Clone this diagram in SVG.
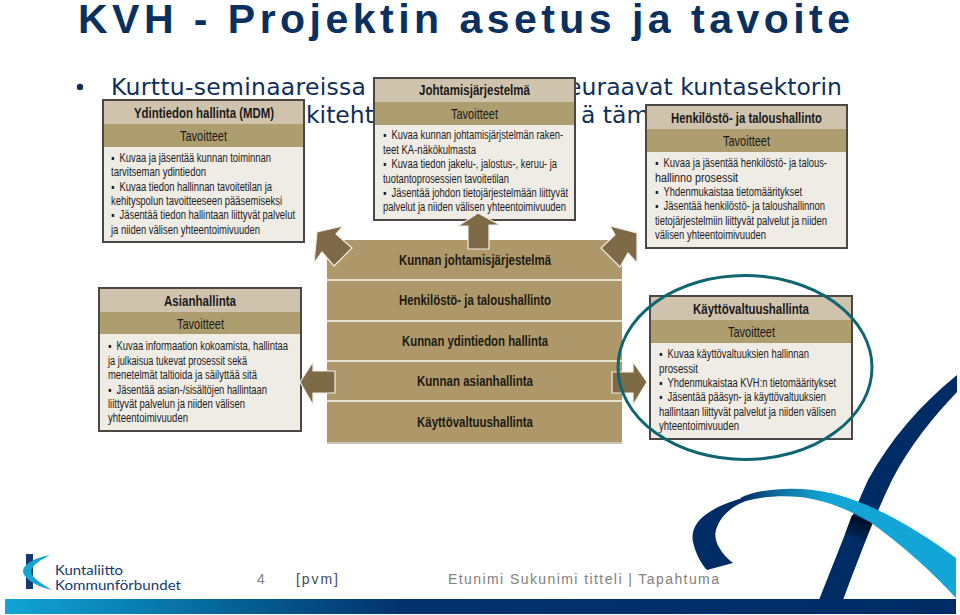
<svg xmlns="http://www.w3.org/2000/svg" width="960" height="615" viewBox="0 0 960 615">
<defs>
<style>
.b{fill:#efebe5;stroke:#4a4844;stroke-width:2}
.h1{fill:#d0c3ae}.h2{fill:#ae9d6e}
.t{font-family:"Liberation Sans",Arial,sans-serif;fill:#1a1a1a}
.ti{font-size:14.5px;font-weight:700}
.ta{font-size:15px}
.li{font-size:12px}
.v{font-family:"DejaVu Sans",Verdana,sans-serif}
.r{font-size:15px;font-weight:700;font-family:"Liberation Sans",Arial,sans-serif;fill:#1c1a12}
.a{fill:#7f6a48;stroke:#f2eee6;stroke-width:1.2}
</style>
<linearGradient id="bar" x1="0" x2="1" y1="0" y2="0"><stop offset="0" stop-color="#10a5d5"/><stop offset=".25" stop-color="#045f93"/><stop offset=".42" stop-color="#03316b"/><stop offset="1" stop-color="#002c66"/></linearGradient>
<linearGradient id="rib" gradientUnits="userSpaceOnUse" x1="742" y1="0" x2="825" y2="0"><stop offset="0" stop-color="#002c66"/><stop offset=".45" stop-color="#0f6f9f"/><stop offset="1" stop-color="#12a5d5"/></linearGradient>
<linearGradient id="shade" gradientUnits="userSpaceOnUse" x1="860" y1="518" x2="852" y2="540"><stop offset="0" stop-color="#000c20"/><stop offset="1" stop-color="#002c66"/></linearGradient>
</defs>
<rect width="960" height="615" fill="#fff"/>
<text x="78" y="33" class="t" style="fill:#0a3060" font-size="41" font-weight="700" textLength="772" lengthAdjust="spacing">KVH - Projektin asetus ja tavoite</text>
<circle cx="80" cy="87" r="3.2" fill="#0f2f57"/>
<g class="v" font-size="23.5" fill="#0f2f57">
<text x="111" y="95" textLength="255">Kurttu-seminaareissa</text>
<text x="567" y="95" textLength="275">euraavat kuntasektorin</text>
<text x="306" y="123">kiteht</text>
<text x="581" y="123">ä täm</text>
</g>
<g id="ribbon">
<path d="M957 375C920 405 890 440 868 480C850 520 833 565 819 600H843C858 560 875 515 892 480C910 445 935 415 957 392Z" fill="#002c66"/>
<path d="M852 515L872 523L864 542L845 534Z" fill="url(#shade)"/>
<path d="M743 498C700 510 690 527 693 542C696 555 702 565 707 570L733 563C720 553 713 540 716 530C720 516 732 506 746 501Z" fill="#002c66"/>
<path d="M740 498C760 488 800 485 835 494C880 506 925 535 956 558V598C935 575 905 547 870 522C850 510 825 500 800 497C780 495 760 497 746 501Z" fill="url(#rib)"/>
</g>
<g id="node-ydintieto">
<rect class="b" x="103" y="100" width="201" height="142"/>
<rect class="h1" x="104" y="101" width="199" height="23"/><rect class="h2" x="104" y="124" width="199" height="23"/>
<text class="t ti" x="134" y="118" textLength="140" lengthAdjust="spacingAndGlyphs">Ydintiedon hallinta (MDM)</text><text class="t ta" x="180" y="141" textLength="47" lengthAdjust="spacingAndGlyphs">Tavoitteet</text>
<g class="t li">
<text x="111" y="162" textLength="160" lengthAdjust="spacingAndGlyphs">▪&#160;&#160;Kuvaa ja jäsentää kunnan toiminnan</text>
<text x="111" y="176" textLength="95" lengthAdjust="spacingAndGlyphs">tarvitseman ydintiedon</text>
<text x="111" y="191" textLength="161" lengthAdjust="spacingAndGlyphs">▪&#160;&#160;Kuvaa tiedon hallinnan tavoitetilan ja</text>
<text x="111" y="205" textLength="171" lengthAdjust="spacingAndGlyphs">kehityspolun tavoitteeseen pääsemiseksi</text>
<text x="111" y="219" textLength="184" lengthAdjust="spacingAndGlyphs">▪&#160;&#160;Jäsentää tiedon hallintaan liittyvät palvelut</text>
<text x="111" y="234" textLength="149" lengthAdjust="spacingAndGlyphs">ja niiden välisen yhteentoimivuuden</text>
</g>
</g>
<g id="node-johtamis">
<rect class="b" x="374" y="78" width="201" height="142"/>
<rect class="h1" x="375" y="79" width="199" height="23"/><rect class="h2" x="375" y="102" width="199" height="23"/>
<text class="t ti" x="419" y="95" textLength="111" lengthAdjust="spacingAndGlyphs">Johtamisjärjestelmä</text><text class="t ta" x="451" y="119" textLength="47" lengthAdjust="spacingAndGlyphs">Tavoitteet</text>
<g class="t li">
<text x="383" y="139" textLength="180" lengthAdjust="spacingAndGlyphs">▪&#160;&#160;Kuvaa kunnan johtamisjärjstelmän raken-</text>
<text x="383" y="154" textLength="93" lengthAdjust="spacingAndGlyphs">teet KA-näkökulmasta</text>
<text x="383" y="168" textLength="174" lengthAdjust="spacingAndGlyphs">▪&#160;&#160;Kuvaa tiedon jakelu-, jalostus-, keruu- ja</text>
<text x="383" y="183" textLength="126" lengthAdjust="spacingAndGlyphs">tuotantoprosessien tavoitetilan</text>
<text x="383" y="197" textLength="185" lengthAdjust="spacingAndGlyphs">▪&#160;&#160;Jäsentää johdon tietojärjestelmään liittyvät</text>
<text x="383" y="211" textLength="183" lengthAdjust="spacingAndGlyphs">palvelut ja niiden välisen yhteentoimivuuden</text>
</g>
</g>
<g id="node-henkilosto">
<rect class="b" x="646" y="105" width="201" height="143"/>
<rect class="h1" x="647" y="106" width="199" height="23"/><rect class="h2" x="647" y="129" width="199" height="23"/>
<text class="t ti" x="671" y="123" textLength="151" lengthAdjust="spacingAndGlyphs">Henkilöstö- ja taloushallinto</text><text class="t ta" x="723" y="146" textLength="47" lengthAdjust="spacingAndGlyphs">Tavoitteet</text>
<g class="t li">
<text x="655" y="167" textLength="172" lengthAdjust="spacingAndGlyphs">▪&#160;&#160;Kuvaa ja jäsentää henkilöstö- ja talous-</text>
<text x="655" y="182" textLength="83" lengthAdjust="spacingAndGlyphs">hallinno prosessit</text>
<text x="655" y="196" textLength="147" lengthAdjust="spacingAndGlyphs">▪&#160;&#160;Yhdenmukaistaa tietomääritykset</text>
<text x="655" y="210" textLength="170" lengthAdjust="spacingAndGlyphs">▪&#160;&#160;Jäsentää henkilöstö- ja taloushallinnon</text>
<text x="655" y="225" textLength="172" lengthAdjust="spacingAndGlyphs">tietojärjestelmiin liittyvät palvelut ja niiden</text>
<text x="655" y="239" textLength="111" lengthAdjust="spacingAndGlyphs">välisen yhteentoimivuuden</text>
</g>
</g>
<g id="node-asian">
<rect class="b" x="99" y="288" width="202" height="143"/>
<rect class="h1" x="100" y="289" width="200" height="23"/><rect class="h2" x="100" y="312" width="200" height="22"/>
<text class="t ti" x="164" y="306" textLength="72" lengthAdjust="spacingAndGlyphs">Asianhallinta</text><text class="t ta" x="177" y="329" textLength="47" lengthAdjust="spacingAndGlyphs">Tavoitteet</text>
<g class="t li">
<text x="108" y="350" textLength="180" lengthAdjust="spacingAndGlyphs">▪&#160;&#160;Kuvaa informaation kokoamista, hallintaa</text>
<text x="108" y="365" textLength="139" lengthAdjust="spacingAndGlyphs">ja julkaisua tukevat prosessit sekä</text>
<text x="108" y="379" textLength="149" lengthAdjust="spacingAndGlyphs">menetelmät taltioida ja säilyttää sitä</text>
<text x="108" y="394" textLength="159" lengthAdjust="spacingAndGlyphs">▪&#160;&#160;Jäsentää asian-/sisältöjen hallintaan</text>
<text x="108" y="408" textLength="137" lengthAdjust="spacingAndGlyphs">liittyvät palvelun ja niiden välisen</text>
<text x="108" y="422" textLength="80" lengthAdjust="spacingAndGlyphs">yhteentoimivuuden</text>
</g>
</g>
<g id="node-kayttovaltuus">
<rect class="b" x="650" y="296" width="202" height="143"/>
<rect class="h1" x="651" y="297" width="200" height="23"/><rect class="h2" x="651" y="320" width="200" height="23"/>
<text class="t ti" x="693" y="314" textLength="116" lengthAdjust="spacingAndGlyphs">Käyttövaltuushallinta</text><text class="t ta" x="728" y="337" textLength="47" lengthAdjust="spacingAndGlyphs">Tavoitteet</text>
<g class="t li">
<text x="659" y="358" textLength="150" lengthAdjust="spacingAndGlyphs">▪&#160;&#160;Kuvaa käyttövaltuuksien hallinnan</text>
<text x="659" y="373" textLength="39" lengthAdjust="spacingAndGlyphs">prosessit</text>
<text x="659" y="387" textLength="177" lengthAdjust="spacingAndGlyphs">▪&#160;&#160;Yhdenmukaistaa KVH:n tietomääritykset</text>
<text x="659" y="401" textLength="167" lengthAdjust="spacingAndGlyphs">▪&#160;&#160;Jäsentää pääsyn- ja käyttövaltuuksien</text>
<text x="659" y="416" textLength="177" lengthAdjust="spacingAndGlyphs">hallintaan liittyvät palvelut ja niiden välisen</text>
<text x="659" y="430" textLength="80" lengthAdjust="spacingAndGlyphs">yhteentoimivuuden</text>
</g>
</g>
<g id="node-stack">
<rect x="327" y="240" width="295" height="203" fill="#ae9869"/>
<g fill="#e8e2d3"><rect x="327" y="279" width="295" height="2"/><rect x="327" y="320" width="295" height="2"/><rect x="327" y="360" width="295" height="2"/><rect x="327" y="400" width="295" height="2"/></g>
<rect x="327" y="442" width="295" height="2" fill="#c9c5ba"/>
<text class="r" x="399" y="265" textLength="152" lengthAdjust="spacingAndGlyphs">Kunnan johtamisjärjestelmä</text>
<text class="r" x="399" y="305" textLength="152" lengthAdjust="spacingAndGlyphs">Henkilöstö- ja taloushallinto</text>
<text class="r" x="402" y="346" textLength="146" lengthAdjust="spacingAndGlyphs">Kunnan ydintiedon hallinta</text>
<text class="r" x="417" y="386" textLength="116" lengthAdjust="spacingAndGlyphs">Kunnan asianhallinta</text>
<text class="r" x="417" y="427" textLength="116" lengthAdjust="spacingAndGlyphs">Käyttövaltuushallinta</text>
</g>
<g id="connectors">
<polygon class="a" points="317,232 343,226 336,234 352,248 334,266 322,252 314,263"/>
<polygon class="a" points="478,213 500,225 489,225 489,249 468,249 468,226 458,226"/>
<polygon class="a" points="637,233 637,263 628,253 620,267 601,248 615,235 610,226"/>
<polygon class="a" points="300,382 313,362 313,371 335,371 335,393 313,393 313,405"/>
<polygon class="a" points="647,382 633,362 633,372 612,372 612,393 633,393 633,405"/>
</g>
<ellipse id="highlight" cx="745" cy="367.5" rx="127" ry="92" fill="none" stroke="#0f6670" stroke-width="3"/>
<g id="footer">
<rect x="5" y="599" width="951" height="15" fill="url(#bar)"/>
<rect x="26" y="554" width="7" height="35" fill="#15386e"/>
<path d="M50 555C33 558 23 565 23 571C23 578 37 587 52 590C42 584 32 578 31 572C31 566 40 560 50 555Z" fill="#12a5d5"/>
<text x="55" y="575" font-family="Lato,'Liberation Sans',sans-serif" font-size="13.5" fill="#15386e" textLength="68" lengthAdjust="spacingAndGlyphs">Kuntaliitto</text>
<text x="55" y="589.5" font-family="Lato,'Liberation Sans',sans-serif" font-size="13.5" fill="#15386e" textLength="126" lengthAdjust="spacingAndGlyphs">Kommunförbundet</text>
<g font-family="'Liberation Sans',Arial,sans-serif" font-size="14">
<text x="257" y="584" fill="#808080">4</text>
<text x="296" y="584" fill="#3b4a66" textLength="42" lengthAdjust="spacing">[pvm]</text>
<text x="448" y="584" fill="#808080" textLength="271" lengthAdjust="spacing">Etunimi Sukunimi titteli | Tapahtuma</text>
</g>
</g>
</svg>
